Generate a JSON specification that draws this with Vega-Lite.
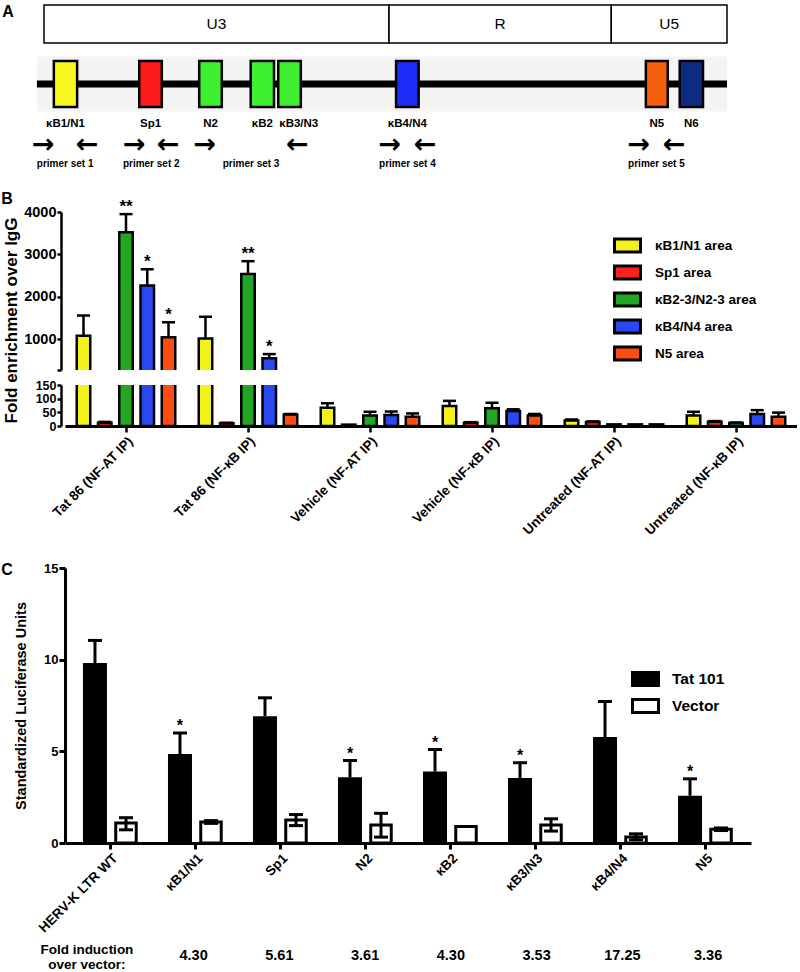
{
  "$schema": "https://vega.github.io/schema/vega-lite/v6.json",
  "background": "white",
  "padding": {"left": 1, "top": 4, "right": 0, "bottom": 0},
  "datasets": {
    "regions": [
      {"name": "U3", "start": 0, "end": 489},
      {"name": "R", "start": 489, "end": 804},
      {"name": "U5", "start": 804, "end": 968}
    ],
    "backbone": [
      {"start": -10, "end": 968}
    ],
    "elements": [
      {"name": "κB1/N1", "start": 14, "end": 47},
      {"name": "Sp1", "start": 135, "end": 167},
      {"name": "N2", "start": 220, "end": 252},
      {"name": "κB2", "start": 293, "end": 326},
      {"name": "κB3/N3", "start": 332, "end": 364},
      {"name": "κB4/N4", "start": 499, "end": 531},
      {"name": "N5", "start": 853, "end": 884},
      {"name": "N6", "start": 901, "end": 934}
    ],
    "primers": [
      {"label": "primer set 1", "fwd": -1, "rev": 61},
      {"label": "primer set 2", "fwd": 128, "rev": 176},
      {"label": "primer set 3", "fwd": 228, "rev": 359},
      {"label": "primer set 4", "fwd": 490, "rev": 540},
      {"label": "primer set 5", "fwd": 843, "rev": 893}
    ],
    "chip": [
      {"sample": "Tat 86 (NF-AT IP)", "area": "κB1/N1 area", "value": 1080, "upper": 1560},
      {"sample": "Tat 86 (NF-AT IP)", "area": "Sp1 area", "value": 12, "upper": 15},
      {"sample": "Tat 86 (NF-AT IP)", "area": "κB2-3/N2-3 area", "value": 3520, "upper": 3950, "star": "**"},
      {"sample": "Tat 86 (NF-AT IP)", "area": "κB4/N4 area", "value": 2270, "upper": 2650, "star": "*"},
      {"sample": "Tat 86 (NF-AT IP)", "area": "N5 area", "value": 1050, "upper": 1400, "star": "*"},
      {"sample": "Tat 86 (NF-κB IP)", "area": "κB1/N1 area", "value": 1015, "upper": 1530},
      {"sample": "Tat 86 (NF-κB IP)", "area": "Sp1 area", "value": 10, "upper": 12},
      {"sample": "Tat 86 (NF-κB IP)", "area": "κB2-3/N2-3 area", "value": 2540, "upper": 2840, "star": "**"},
      {"sample": "Tat 86 (NF-κB IP)", "area": "κB4/N4 area", "value": 550, "upper": 650, "star": "*"},
      {"sample": "Tat 86 (NF-κB IP)", "area": "N5 area", "value": 42, "upper": 44},
      {"sample": "Vehicle (NF-AT IP)", "area": "κB1/N1 area", "value": 67, "upper": 83},
      {"sample": "Vehicle (NF-AT IP)", "area": "Sp1 area", "value": 5},
      {"sample": "Vehicle (NF-AT IP)", "area": "κB2-3/N2-3 area", "value": 38, "upper": 52},
      {"sample": "Vehicle (NF-AT IP)", "area": "κB4/N4 area", "value": 40, "upper": 53},
      {"sample": "Vehicle (NF-AT IP)", "area": "N5 area", "value": 34, "upper": 46},
      {"sample": "Vehicle (NF-κB IP)", "area": "κB1/N1 area", "value": 73, "upper": 92},
      {"sample": "Vehicle (NF-κB IP)", "area": "Sp1 area", "value": 12, "upper": 14},
      {"sample": "Vehicle (NF-κB IP)", "area": "κB2-3/N2-3 area", "value": 65, "upper": 85},
      {"sample": "Vehicle (NF-κB IP)", "area": "κB4/N4 area", "value": 55, "upper": 61},
      {"sample": "Vehicle (NF-κB IP)", "area": "N5 area", "value": 38, "upper": 44},
      {"sample": "Untreated (NF-AT IP)", "area": "κB1/N1 area", "value": 20, "upper": 24},
      {"sample": "Untreated (NF-AT IP)", "area": "Sp1 area", "value": 15, "upper": 17},
      {"sample": "Untreated (NF-AT IP)", "area": "κB2-3/N2-3 area", "value": 6},
      {"sample": "Untreated (NF-AT IP)", "area": "κB4/N4 area", "value": 6},
      {"sample": "Untreated (NF-AT IP)", "area": "N5 area", "value": 6},
      {"sample": "Untreated (NF-κB IP)", "area": "κB1/N1 area", "value": 38, "upper": 52},
      {"sample": "Untreated (NF-κB IP)", "area": "Sp1 area", "value": 16, "upper": 18},
      {"sample": "Untreated (NF-κB IP)", "area": "κB2-3/N2-3 area", "value": 11, "upper": 13},
      {"sample": "Untreated (NF-κB IP)", "area": "κB4/N4 area", "value": 44, "upper": 58},
      {"sample": "Untreated (NF-κB IP)", "area": "N5 area", "value": 34, "upper": 49}
    ],
    "luc": [
      {"construct": "HERV-K LTR WT", "group": "Tat 101", "value": 9.82, "upper": 11.05},
      {"construct": "HERV-K LTR WT", "group": "Vector", "value": 1.09, "lower": 0.72, "upper": 1.38},
      {"construct": "κB1/N1", "group": "Tat 101", "value": 4.85, "upper": 6.0, "star": "*"},
      {"construct": "κB1/N1", "group": "Vector", "value": 1.15, "lower": 1.07, "upper": 1.22},
      {"construct": "Sp1", "group": "Tat 101", "value": 6.92, "upper": 7.92},
      {"construct": "Sp1", "group": "Vector", "value": 1.25, "lower": 0.95, "upper": 1.55},
      {"construct": "N2", "group": "Tat 101", "value": 3.58, "upper": 4.5, "star": "*"},
      {"construct": "N2", "group": "Vector", "value": 0.98, "lower": 0.32, "upper": 1.62},
      {"construct": "κB2", "group": "Tat 101", "value": 3.9, "upper": 5.1, "star": "*"},
      {"construct": "κB2", "group": "Vector", "value": 0.9},
      {"construct": "κB3/N3", "group": "Tat 101", "value": 3.55, "upper": 4.38, "star": "*"},
      {"construct": "κB3/N3", "group": "Vector", "value": 0.98, "lower": 0.65, "upper": 1.32},
      {"construct": "κB4/N4", "group": "Tat 101", "value": 5.78, "upper": 7.72},
      {"construct": "κB4/N4", "group": "Vector", "value": 0.33, "lower": 0.18, "upper": 0.5},
      {"construct": "N5", "group": "Tat 101", "value": 2.58, "upper": 3.5, "star": "*"},
      {"construct": "N5", "group": "Vector", "value": 0.75, "lower": 0.68, "upper": 0.82}
    ],
    "fold": [
      {"construct": "κB1/N1", "fold": "4.30"},
      {"construct": "Sp1", "fold": "5.61"},
      {"construct": "N2", "fold": "3.61"},
      {"construct": "κB2", "fold": "4.30"},
      {"construct": "κB3/N3", "fold": "3.53"},
      {"construct": "κB4/N4", "fold": "17.25"},
      {"construct": "N5", "fold": "3.36"}
    ]
  },
  "config": {
    "font": "Liberation Sans",
    "view": {"stroke": null},
    "axis": {"grid": false, "domainColor": "black", "tickColor": "black", "labelColor": "black", "titleColor": "black", "labelFont": "Liberation Sans", "titleFont": "Liberation Sans", "labelFontWeight": "bold", "titleFontWeight": "bold", "labelOverlap": false},
    "legend": {"labelFont": "Liberation Sans", "labelFontWeight": "bold", "labelColor": "black"},
    "text": {"font": "Liberation Sans", "fontWeight": "bold", "color": "black"}
  },
  "bounds": "flush",
  "spacing": 0,
  "resolve": {"scale": {"x": "independent", "y": "independent", "fill": "independent", "xOffset": "independent"}, "legend": {"fill": "independent"}},
  "vconcat": [
    {
      "width": 732,
      "height": 180,
      "layer": [
        {
          "data": {"name": "regions"},
          "mark": {"type": "bar", "size": 38, "fill": "white", "stroke": "black", "strokeWidth": 1.5},
          "encoding": {
            "x": {"field": "start", "type": "quantitative", "scale": {"domain": [29.8, 1067.2], "nice": false, "zero": false}, "axis": null},
            "x2": {"field": "end"},
            "y": {"datum": "region", "type": "nominal", "scale": {"type": "point", "domain": ["top", "region", "g1", "g2", "element", "g3", "name", "arrow", "primer", "bottom"], "padding": 0}, "axis": null}
          }
        },
        {
          "data": {"name": "regions"},
          "transform": [{"calculate": "(datum.start + datum.end) / 2", "as": "mid"}],
          "mark": {"type": "text", "fontSize": 15.5, "fontWeight": "normal"},
          "encoding": {
            "x": {"field": "mid", "type": "quantitative"},
            "y": {"datum": "region", "type": "nominal"},
            "text": {"field": "name"}
          }
        },
        {
          "data": {"values": [{"panel": "A"}]},
          "mark": {"type": "text", "fontSize": 16, "dy": 8},
          "encoding": {
            "x": {"datum": -51, "type": "quantitative"},
            "y": {"datum": "top", "type": "nominal"},
            "text": {"field": "panel"}
          }
        },
        {
          "data": {"name": "backbone"},
          "mark": {"type": "bar", "size": 55, "fill": "#f3f3f3"},
          "encoding": {
            "x": {"field": "start", "type": "quantitative"},
            "x2": {"field": "end"},
            "y": {"datum": "element", "type": "nominal"}
          }
        },
        {
          "data": {"name": "backbone"},
          "mark": {"type": "rule", "strokeWidth": 7, "color": "black"},
          "encoding": {
            "x": {"field": "start", "type": "quantitative"},
            "x2": {"field": "end"},
            "y": {"datum": "element", "type": "nominal"}
          }
        },
        {
          "data": {"name": "elements"},
          "mark": {"type": "bar", "size": 46, "stroke": "black", "strokeWidth": 2.5},
          "encoding": {
            "x": {"field": "start", "type": "quantitative"},
            "x2": {"field": "end"},
            "y": {"datum": "element", "type": "nominal"},
            "fill": {"field": "name", "type": "nominal", "scale": {"domain": ["κB1/N1", "Sp1", "N2", "κB2", "κB3/N3", "κB4/N4", "N5", "N6"], "range": ["#f8f820", "#fb1c1c", "#3ff030", "#3ff030", "#3ff030", "#1e2ef8", "#f4600e", "#0c2c84"]}, "legend": null}
          }
        },
        {
          "data": {"name": "elements"},
          "transform": [{"filter": "datum.name != 'κB3/N3'"}, {"calculate": "(datum.start + datum.end) / 2", "as": "mid"}],
          "mark": {"type": "text", "fontSize": 11.5},
          "encoding": {
            "x": {"field": "mid", "type": "quantitative"},
            "y": {"datum": "name", "type": "nominal"},
            "text": {"field": "name"}
          }
        },
        {
          "data": {"name": "elements"},
          "transform": [{"filter": "datum.name == 'κB3/N3'"}],
          "mark": {"type": "text", "fontSize": 11.5, "align": "left", "dx": 1},
          "encoding": {
            "x": {"field": "start", "type": "quantitative"},
            "y": {"datum": "name", "type": "nominal"},
            "text": {"field": "name"}
          }
        },
        {
          "data": {"name": "primers"},
          "mark": {"type": "text", "fontSize": 27, "font": "DejaVu Sans", "fontWeight": "bold", "text": "→", "dy": 1},
          "encoding": {
            "x": {"field": "fwd", "type": "quantitative"},
            "y": {"datum": "arrow", "type": "nominal"}
          }
        },
        {
          "data": {"name": "primers"},
          "mark": {"type": "text", "fontSize": 27, "font": "DejaVu Sans", "fontWeight": "bold", "text": "←", "dy": 1},
          "encoding": {
            "x": {"field": "rev", "type": "quantitative"},
            "y": {"datum": "arrow", "type": "nominal"}
          }
        },
        {
          "data": {"name": "primers"},
          "transform": [{"calculate": "(datum.fwd + datum.rev) / 2", "as": "mid"}],
          "mark": {"type": "text", "fontSize": 10},
          "encoding": {
            "x": {"field": "mid", "type": "quantitative"},
            "y": {"datum": "primer", "type": "nominal"},
            "text": {"field": "label"}
          }
        }
      ]
    },
    {
      "width": 10, "height": 28,
      "data": {"values": [{"s": ""}]},
      "mark": {"type": "text"},
      "encoding": {"text": {"field": "s"}}
    },
    {
      "width": 732,
      "height": 158,
      "data": {"name": "chip"},
      "transform": [{"filter": "datum.value > 275"}],
      "encoding": {
        "x": {"field": "sample", "type": "nominal", "scale": {"domain": ["Tat 86 (NF-AT IP)", "Tat 86 (NF-κB IP)", "Vehicle (NF-AT IP)", "Vehicle (NF-κB IP)", "Untreated (NF-AT IP)", "Untreated (NF-κB IP)"], "paddingInner": 0, "paddingOuter": 0}, "axis": null},
        "xOffset": {"field": "area", "type": "nominal", "scale": {"domain": ["κB1/N1 area", "Sp1 area", "κB2-3/N2-3 area", "κB4/N4 area", "N5 area"], "paddingInner": 0.37, "paddingOuter": 0.555}}
      },
      "layer": [
        {
          "mark": {"type": "bar", "size": 13.5, "stroke": "black", "strokeWidth": 2.5, "clip": true},
          "encoding": {
            "y": {"field": "value", "type": "quantitative", "scale": {"domain": [275, 4000], "nice": false, "zero": false},
              "axis": {"values": [275, 1000, 2000, 3000, 4000], "tickCount": 10, "format": "d", "labelExpr": "datum.value < 500 ? '' : datum.label", "labelOverlap": false, "labelBound": false, "domainWidth": 2.5, "tickWidth": 2.5, "tickSize": 4, "labelFontSize": 14.5, "labelPadding": 1, "offset": 4, "title": "Fold enrichment over IgG", "titleFontSize": 17, "titleAngle": -90, "titleX": -49.5, "titleY": 108, "titleBaseline": "middle", "titleAlign": "center"}},
            "fill": {"field": "area", "type": "nominal", "scale": {"domain": ["κB1/N1 area", "Sp1 area", "κB2-3/N2-3 area", "κB4/N4 area", "N5 area"], "range": ["#f2f21a", "#fc2020", "#23a623", "#2a48f2", "#fc4c10"]},
              "legend": {"title": null, "orient": "none", "legendX": 548, "legendY": 19, "symbolType": "M-1,-0.5H1V0.5H-1Z", "symbolSize": 676, "symbolStrokeColor": "black", "symbolStrokeWidth": 3, "labelFontSize": 13.5, "labelOffset": 13, "rowPadding": -4, "padding": 0}}
          }
        },
        {
          "transform": [{"filter": "isValid(datum.upper)"}],
          "mark": {"type": "rule", "strokeWidth": 2.5, "color": "black", "clip": true},
          "encoding": {"y": {"field": "value", "type": "quantitative"}, "y2": {"field": "upper"}}
        },
        {
          "transform": [{"filter": "isValid(datum.upper)"}],
          "mark": {"type": "tick", "thickness": 2.5, "size": 13, "color": "black", "opacity": 1, "clip": true},
          "encoding": {"y": {"field": "upper", "type": "quantitative"}}
        },
        {
          "transform": [{"filter": "isValid(datum.star)"}],
          "mark": {"type": "text", "fontSize": 17, "baseline": "alphabetic", "dy": -2},
          "encoding": {"y": {"field": "upper", "type": "quantitative"}, "text": {"field": "star"}}
        },
        {
          "data": {"values": [{"panel": "B"}]},
          "transform": [],
          "mark": {"type": "text", "fontSize": 16, "dx": -76.5, "dy": -13},
          "encoding": {
            "x": {"datum": "Tat 86 (NF-AT IP)", "type": "nominal"},
            "xOffset": {"datum": "κB1/N1 area", "type": "nominal"},
            "y": {"datum": 4000, "type": "quantitative"},
            "text": {"field": "panel"}
          }
        }
      ]
    },
    {
      "width": 10, "height": 15,
      "data": {"values": [{"s": ""}]},
      "mark": {"type": "text"},
      "encoding": {"text": {"field": "s"}}
    },
    {
      "width": 732,
      "height": 41,
      "data": {"name": "chip"},
      "encoding": {
        "x": {"field": "sample", "type": "nominal", "scale": {"domain": ["Tat 86 (NF-AT IP)", "Tat 86 (NF-κB IP)", "Vehicle (NF-AT IP)", "Vehicle (NF-κB IP)", "Untreated (NF-AT IP)", "Untreated (NF-κB IP)"], "paddingInner": 0, "paddingOuter": 0},
          "axis": {"title": null, "labelAngle": -45, "labelFontSize": 13.5, "tickSize": 6, "tickWidth": 2.5, "domainWidth": 3, "labelPadding": 2}},
        "xOffset": {"field": "area", "type": "nominal", "scale": {"domain": ["κB1/N1 area", "Sp1 area", "κB2-3/N2-3 area", "κB4/N4 area", "N5 area"], "paddingInner": 0.37, "paddingOuter": 0.555}}
      },
      "layer": [
        {
          "mark": {"type": "bar", "size": 13.5, "stroke": "black", "strokeWidth": 2.5, "clip": true},
          "encoding": {
            "y": {"field": "value", "type": "quantitative", "scale": {"domain": [0, 150], "nice": false},
              "axis": {"values": [0, 50, 100, 150], "tickCount": 10, "labelOverlap": false, "labelBound": false, "domainWidth": 2.5, "tickWidth": 2.5, "tickSize": 4, "labelFontSize": 12.5, "labelPadding": 1, "offset": 4, "title": null}},
            "fill": {"field": "area", "type": "nominal", "scale": {"domain": ["κB1/N1 area", "Sp1 area", "κB2-3/N2-3 area", "κB4/N4 area", "N5 area"], "range": ["#f2f21a", "#fc2020", "#23a623", "#2a48f2", "#fc4c10"]}, "legend": null}
          }
        },
        {
          "transform": [{"filter": "isValid(datum.upper) && datum.upper < 150"}],
          "mark": {"type": "rule", "strokeWidth": 2.5, "color": "black", "clip": true},
          "encoding": {"y": {"field": "value", "type": "quantitative"}, "y2": {"field": "upper"}}
        },
        {
          "transform": [{"filter": "isValid(datum.upper) && datum.upper < 150"}],
          "mark": {"type": "tick", "thickness": 2.5, "size": 13, "color": "black", "opacity": 1, "clip": true},
          "encoding": {"y": {"field": "upper", "type": "quantitative"}}
        }
      ]
    },
    {
      "width": 10, "height": 142,
      "data": {"values": [{"s": ""}]},
      "mark": {"type": "text"},
      "encoding": {"text": {"field": "s"}}
    },
    {
      "width": 686,
      "height": 275,
      "data": {"name": "luc"},
      "encoding": {
        "x": {"field": "construct", "type": "nominal", "scale": {"domain": ["HERV-K LTR WT", "κB1/N1", "Sp1", "N2", "κB2", "κB3/N3", "κB4/N4", "N5"], "paddingInner": 0, "paddingOuter": 0.035},
          "axis": {"title": null, "labelAngle": -45, "labelFontSize": 13.5, "tickSize": 6, "tickWidth": 3, "domainWidth": 3, "labelPadding": 2}},
        "xOffset": {"field": "group", "type": "nominal", "scale": {"domain": ["Tat 101", "Vector"], "paddingInner": 0.226, "paddingOuter": 0.484}}
      },
      "layer": [
        {
          "transform": [{"filter": "datum.group == 'Tat 101'"}],
          "mark": {"type": "bar", "size": 24},
          "encoding": {
            "y": {"field": "value", "type": "quantitative", "scale": {"domain": [0, 15], "nice": false},
              "axis": {"values": [0, 5, 10, 15], "tickCount": 10, "labelOverlap": false, "domainWidth": 3, "tickWidth": 3, "tickSize": 6, "labelFontSize": 13, "labelPadding": 1, "title": "Standardized Luciferase Units", "titleFontSize": 14.5, "titleAngle": -90, "titleX": -43.5, "titleBaseline": "middle"}},
            "fill": {"field": "group", "type": "nominal", "scale": {"domain": ["Tat 101", "Vector"], "range": ["black", "white"]},
              "legend": {"title": null, "orient": "none", "legendX": 566, "legendY": 96.5, "symbolType": "M-1,-0.5H1V0.5H-1Z", "symbolSize": 676, "symbolStrokeColor": "black", "symbolStrokeWidth": 3, "labelFontSize": 15.5, "labelOffset": 12, "rowPadding": -6, "padding": 0}}
          }
        },
        {
          "transform": [{"filter": "datum.group == 'Vector'"}],
          "mark": {"type": "bar", "size": 20.5, "stroke": "black", "strokeWidth": 3},
          "encoding": {
            "y": {"field": "value", "type": "quantitative"},
            "fill": {"field": "group", "type": "nominal"}
          }
        },
        {
          "transform": [{"filter": "datum.group == 'Tat 101'"}],
          "mark": {"type": "rule", "strokeWidth": 3, "color": "black"},
          "encoding": {"y": {"field": "value", "type": "quantitative"}, "y2": {"field": "upper"}}
        },
        {
          "transform": [{"filter": "isValid(datum.lower)"}],
          "mark": {"type": "rule", "strokeWidth": 3, "color": "black"},
          "encoding": {"y": {"field": "lower", "type": "quantitative"}, "y2": {"field": "upper"}}
        },
        {
          "transform": [{"filter": "isValid(datum.upper)"}],
          "mark": {"type": "tick", "thickness": 3, "size": 14, "color": "black", "opacity": 1},
          "encoding": {"y": {"field": "upper", "type": "quantitative"}}
        },
        {
          "transform": [{"filter": "isValid(datum.lower)"}],
          "mark": {"type": "tick", "thickness": 3, "size": 14, "color": "black", "opacity": 1},
          "encoding": {"y": {"field": "lower", "type": "quantitative"}}
        },
        {
          "transform": [{"filter": "isValid(datum.star)"}],
          "mark": {"type": "text", "fontSize": 16, "baseline": "alphabetic", "dy": -2},
          "encoding": {"y": {"field": "upper", "type": "quantitative"}, "text": {"field": "star"}}
        },
        {
          "data": {"values": [{"panel": "C"}]},
          "mark": {"type": "text", "fontSize": 16, "dx": -88, "dy": 2},
          "encoding": {
            "x": {"datum": "HERV-K LTR WT", "type": "nominal"},
            "xOffset": {"datum": "Tat 101", "type": "nominal"},
            "y": {"datum": 15, "type": "quantitative"},
            "text": {"field": "panel"}
          }
        }
      ]
    },
    {
      "width": 10, "height": 98,
      "data": {"values": [{"s": ""}]},
      "mark": {"type": "text"},
      "encoding": {"text": {"field": "s"}}
    },
    {
      "width": 686,
      "height": 30,
      "layer": [
        {
          "data": {"name": "fold"},
          "mark": {"type": "text", "fontSize": 14.5},
          "encoding": {
            "x": {"field": "construct", "type": "nominal", "scale": {"domain": ["HERV-K LTR WT", "κB1/N1", "Sp1", "N2", "κB2", "κB3/N3", "κB4/N4", "N5"], "paddingInner": 0, "paddingOuter": 0.035}, "axis": null},
            "text": {"field": "fold"}
          }
        },
        {
          "data": {"values": [{"construct": "HERV-K LTR WT", "label": "Fold induction\nover vector:"}]},
          "mark": {"type": "text", "fontSize": 13.5, "lineBreak": "\n", "lineHeight": 14.5, "dx": -21, "dy": -6},
          "encoding": {
            "x": {"field": "construct", "type": "nominal"},
            "text": {"field": "label"}
          }
        }
      ]
    }
  ]
}
